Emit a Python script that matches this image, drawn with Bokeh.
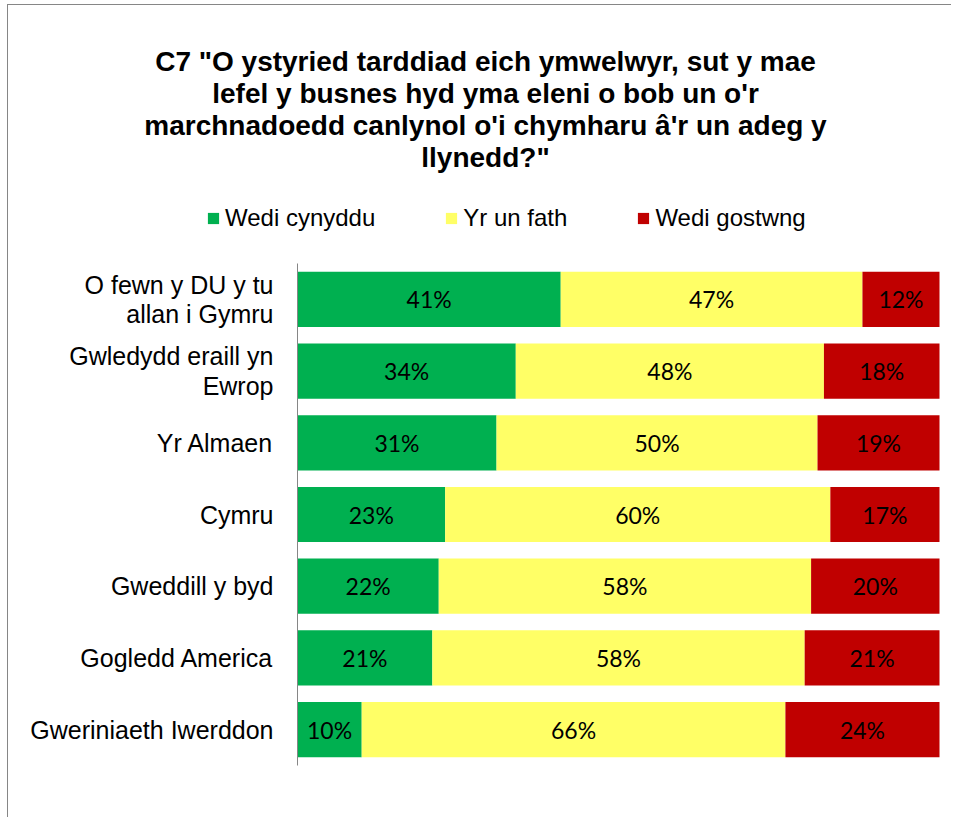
from bokeh.plotting import figure
from bokeh.models import ColumnDataSource, Range1d, Label, LabelSet, Legend, LegendItem
from bokeh.core.properties import value
from bokeh.embed import file_html
from bokeh.resources import INLINE

categories = ["O fewn y DU y tu\nallan i Gymru", "Gwledydd eraill yn\nEwrop", "Yr Almaen", "Cymru",
              "Gweddill y byd", "Gogledd America", "Gweriniaeth Iwerddon"]
series_names = ["Wedi cynyddu", "Yr un fath", "Wedi gostwng"]
increased = [41, 34, 31, 23, 22, 21, 10]
same = [47, 48, 50, 60, 58, 58, 66]
decreased = [12, 18, 19, 17, 20, 21, 24]
colors = ["#00B050", "#FFFF66", "#C00000"]
title_text = "C7 \"O ystyried tarddiad eich ymwelwyr, sut y mae\nlefel y busnes hyd yma eleni o bob un o'r\nmarchnadoedd canlynol o'i chymharu â'r un adeg y\nllynedd?\""

# ---- layout constants (pixels) ----
W, H = 944, 813                 # canvas size
PLOT_L, PLOT_R = 289, 931       # bar area left/right on canvas
PLOT_T, PLOT_B = 258, 760       # bar area top/bottom on canvas

n = len(categories)
ypos = [n - 1 - i for i in range(n)]          # first category on top
keys = ["inc", "same", "dec"]
source = ColumnDataSource(dict(y=ypos, cat=categories, inc=increased, same=same, dec=decreased))

xpx = (PLOT_R - PLOT_L) / 100.0
ypx = (PLOT_B - PLOT_T) / n
x_range = Range1d(-PLOT_L / xpx, 100 + (W - PLOT_R) / xpx)
y_range = Range1d(-0.5 - (H - PLOT_B) / ypx, n - 0.5 + PLOT_T / ypx)

p = figure(width=W, height=H, min_border=0, x_range=x_range, y_range=y_range,
           output_backend="svg", toolbar_location=None,
           styles={"margin-left": "7px", "margin-top": "4px",
                   "border-left": "1px solid #868686", "border-top": "1px solid #868686"})
p.axis.visible = False
p.grid.visible = False
p.outline_line_color = None

renderers = p.hbar_stack(keys, y="y", height=0.77, color=colors, line_color=None, source=source)

# category axis: line and labels
p.segment(x0=0, y0=-0.5, x1=0, y1=n - 0.5, line_color="#868686", line_width=1)
p.text(x=0, y="y", text="cat", source=source, x_offset=-24, text_align="right", text_baseline="middle",
       text_font=value("Liberation Sans"), text_font_size=value("25px"), text_line_height=1.05,
       text_color="#000000")

# data labels
lbl_x, lbl_y, lbl_t = [], [], []
for i in range(n):
    start = 0
    for vals in (increased, same, decreased):
        v = vals[i]
        lbl_x.append(start + v / 2)
        lbl_y.append(ypos[i])
        lbl_t.append(f"{v}%")
        start += v
lsrc = ColumnDataSource(dict(x=lbl_x, y=lbl_y, t=lbl_t))
p.add_layout(LabelSet(x="x", y="y", text="t", source=lsrc, text_align="center", text_baseline="middle",
                      text_font=value("Lato"), text_font_size=value("23px"), text_color="#000000"))

# title
p.add_layout(Label(x=477, y=709, x_units="screen", y_units="screen", text=title_text,
                   text_align="center", text_baseline="middle", text_font="Liberation Sans",
                   text_font_style="bold", text_font_size="28px", text_line_height=1.03,
                   text_color="#000000"))

# legend
legend = Legend(items=[LegendItem(label=nm, renderers=[r]) for nm, r in zip(series_names, renderers)],
                orientation="horizontal", location=(198, 586), spacing=69,
                glyph_width=14, glyph_height=14, label_standoff=5, padding=0, margin=0,
                border_line_color=None, background_fill_alpha=0,
                label_text_font="Liberation Sans", label_text_font_size="24px",
                label_text_color="#000000")
p.add_layout(legend, "center")

open("out.html", "w").write(file_html(p, INLINE))
